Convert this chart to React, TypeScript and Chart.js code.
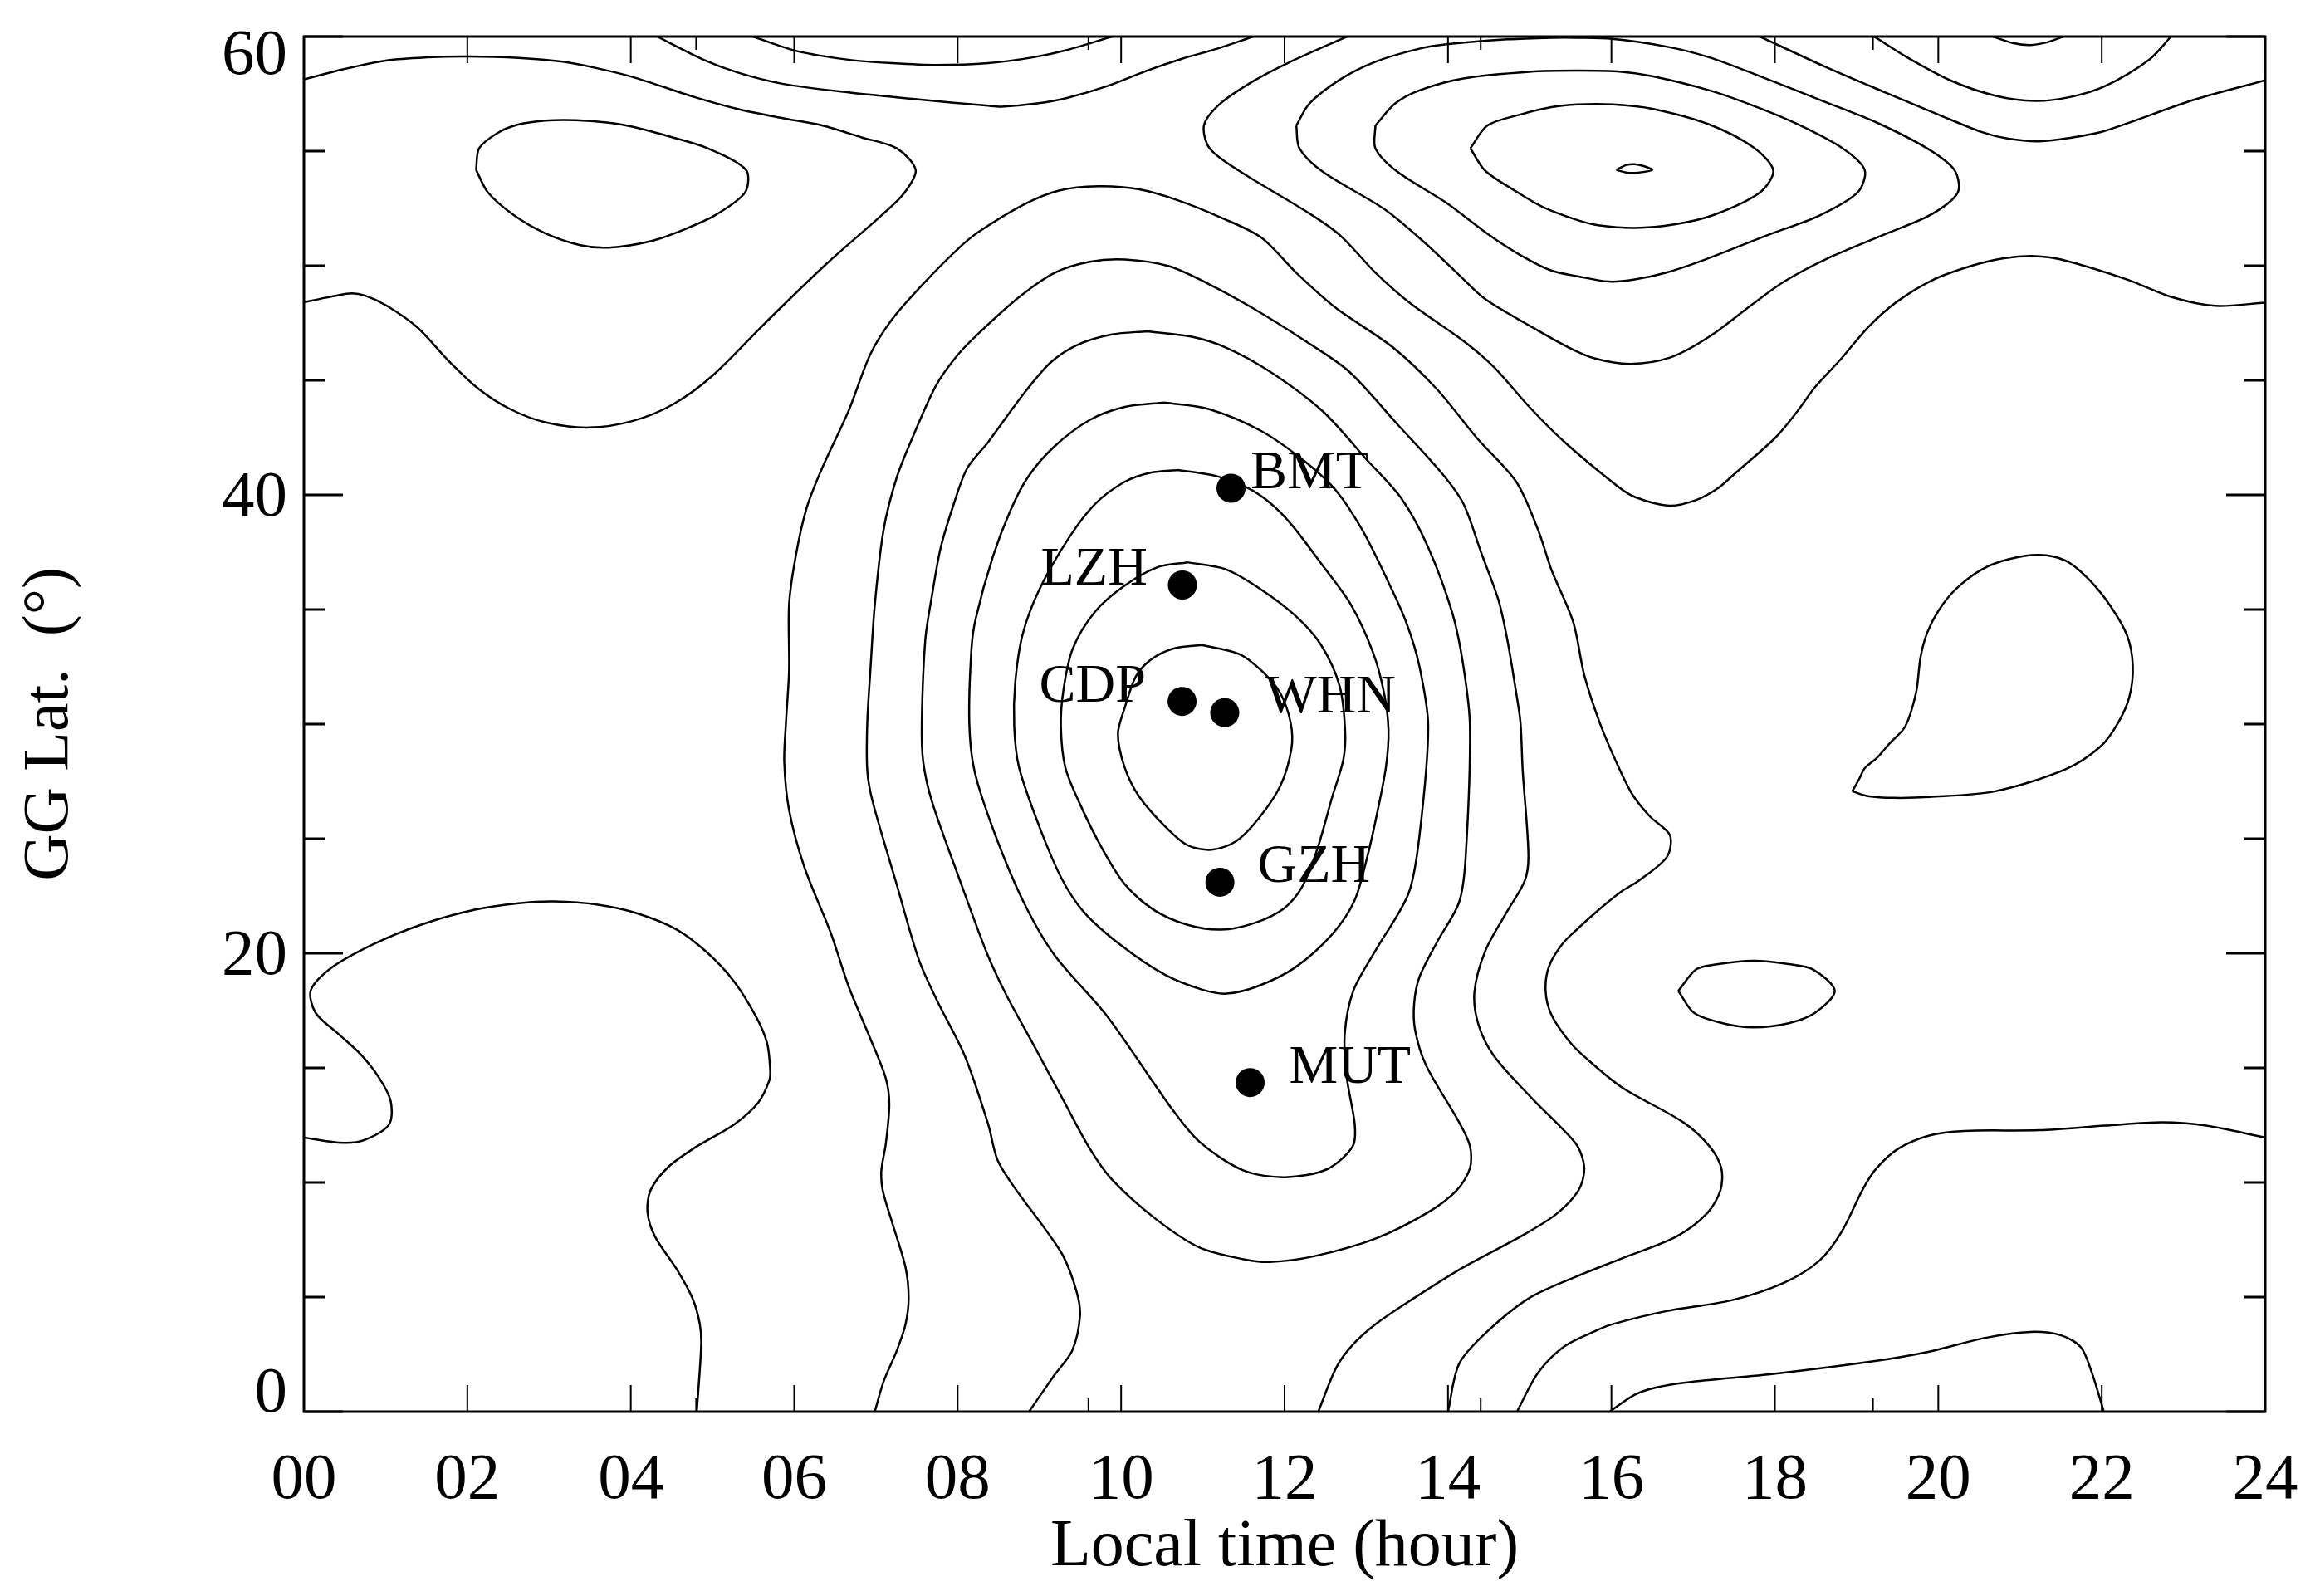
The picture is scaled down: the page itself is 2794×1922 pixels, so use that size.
import { useEffect, useRef } from 'react'
import { Chart, registerables } from 'chart.js'

Chart.register(...registerables)

type Pt = [number, number]

const FONT = '"Liberation Serif"'

// tick positions
const hourMajor = [0, 2, 4, 6, 8, 10, 12, 14, 16, 18, 20, 22, 24]
const hourMinor = [4.8, 9.6, 14.4, 19.2]
const hourLabels = ['00', '02', '04', '06', '08', '10', '12', '14', '16', '18', '20', '22', '24']
const latMajor = [0, 20, 40, 60]
const latMinor = [5, 10, 15, 25, 30, 35, 45, 50, 55]

// stations
const stationNames = ['BMT', 'LZH', 'CDP', 'WHN', 'GZH', 'MUT']
const stationHours = [11.345, 10.75, 10.746, 11.268, 11.209, 11.579]
const stationLats = [40.29, 36.07, 30.99, 30.5, 23.1, 14.36]
const stationLabelHours = [11.583, 9.018, 8.997, 11.76, 11.67, 12.056]

// contour lines, [local time, latitude]
const topLeftLine: Pt[] = [[0, 58.13], [0.477, 58.57], [1.015, 58.96], [1.499, 59.09], [2.005, 59.13], [2.629, 59.07], [3.167, 58.9], [3.597, 58.61], [4.027, 58.23], [4.78, 57.36], [5.318, 56.83], [5.856, 56.44], [6.34, 56.12], [6.825, 55.6], [7.255, 55.12], [7.486, 54.18], [7.352, 53.2], [7.093, 52.28], [6.394, 50.08], [5.641, 47.49], [4.996, 45.19], [4.511, 43.94], [4.027, 43.23], [3.489, 42.94], [2.951, 43.17], [2.521, 43.75], [2.144, 44.61], [1.768, 45.86], [1.391, 47.3], [1.015, 48.25], [0.746, 48.7], [0.558, 48.79], [0.262, 48.6], [0, 48.41]]
const topLeftBlob: Pt[] = [[2.107, 54.18], [2.144, 55.12], [2.36, 55.77], [2.602, 56.14], [2.951, 56.33], [3.328, 56.35], [3.705, 56.25], [4.027, 56.06], [4.511, 55.6], [4.942, 55.12], [5.41, 54.18], [5.399, 53.2], [5.05, 52.24], [4.673, 51.61], [4.242, 51.07], [3.731, 50.79], [3.382, 50.9], [2.951, 51.42], [2.575, 52.19], [2.252, 53.2], [2.107, 54.18]]
const topArcOuter: Pt[] = [[4.323, 60], [4.888, 58.99], [5.318, 58.42], [5.856, 57.94], [6.663, 57.56], [7.47, 57.27], [8.374, 56.98], [8.54, 56.94], [8.97, 57.08], [9.347, 57.33], [9.831, 57.84], [10.315, 58.51], [10.745, 59.03], [11.176, 59.47], [11.617, 60]]
const topArcInner: Pt[] = [[5.496, 60], [6.018, 59.38], [6.663, 58.99], [7.201, 58.84], [7.739, 58.76], [8.374, 58.84], [8.917, 59.09], [9.347, 59.42], [9.885, 60]]
const upperRightOuter: Pt[] = [[12.763, 60], [12.037, 58.84], [11.606, 58.03], [11.203, 57.04], [11.014, 56.12], [11.084, 55.12], [11.445, 54.14], [12.305, 52.28], [12.682, 51.32], [13.112, 49.7], [13.543, 48.35], [14.188, 46.72], [14.565, 45.57], [14.995, 43.84], [15.425, 42.31], [16.071, 40.39], [16.286, 39.91], [16.706, 39.53], [17.038, 39.78], [17.307, 40.3], [17.523, 40.97], [18.007, 42.5], [18.276, 43.65], [18.491, 44.7], [18.814, 45.95], [19.136, 47.3], [19.486, 48.41], [19.943, 49.4], [20.427, 50.02], [20.804, 50.33], [21.18, 50.42], [21.503, 50.27], [22.31, 49.4], [22.848, 48.64], [23.386, 48.25], [24, 48.39]]
const upperRingA: Pt[] = [[12.144, 56.12], [12.305, 57.08], [12.682, 58.13], [13.112, 58.9], [13.65, 59.47], [14.005, 59.67], [14.726, 59.88], [15.264, 59.95], [15.586, 59.95], [16.006, 59.9], [16.662, 59.57], [17.2, 59.09], [17.845, 58.23], [18.598, 57.17], [19.244, 56.25], [19.863, 55.12], [20.196, 54.18], [20.239, 53.2], [19.916, 52.24], [19.351, 51.38], [18.652, 50.33], [18.114, 49.31], [17.738, 48.35], [17.2, 46.91], [16.716, 45.99], [16.231, 45.72], [15.801, 45.95], [15.479, 46.43], [14.995, 47.39], [14.457, 48.54], [14.135, 49.6], [13.704, 51.04], [13.22, 52.47], [12.467, 54.1], [12.182, 55.12], [12.144, 56.12]]
const upperRingB: Pt[] = [[13.112, 56.12], [13.354, 57.08], [13.65, 57.65], [14.188, 58.17], [14.995, 58.46], [15.586, 58.51], [16.124, 58.46], [16.5, 58.27], [17.2, 57.65], [17.738, 56.98], [18.276, 56.18], [18.83, 55.12], [19.099, 54.18], [19.013, 53.2], [18.545, 52.19], [17.899, 51.32], [17.146, 50.27], [16.662, 49.69], [16.285, 49.4], [15.963, 49.31], [15.586, 49.54], [15.264, 49.79], [14.887, 50.46], [14.511, 51.32], [13.973, 52.76], [13.381, 54.1], [13.112, 55.12], [13.112, 56.12]]
const upperRingC: Pt[] = [[14.274, 55.12], [14.484, 56.12], [14.887, 56.6], [15.264, 56.92], [15.586, 57.04], [16.016, 57.04], [16.5, 56.85], [17.2, 56.16], [17.738, 55.16], [17.98, 54.16], [17.818, 53.2], [17.254, 52.22], [16.769, 51.8], [16.285, 51.65], [15.855, 51.76], [15.586, 51.99], [15.156, 52.57], [14.834, 53.24], [14.457, 54.14], [14.274, 55.12]]
const upperRingCore: Pt[] = [[16.059, 54.18], [16.178, 54.39], [16.285, 54.43], [16.393, 54.35], [16.5, 54.18], [16.285, 54.05], [16.178, 54.07], [16.059, 54.18]]
const topRightArc: Pt[] = [[19.217, 60], [19.62, 59.09], [20.158, 58.07], [20.696, 57.42], [21.18, 57.19], [21.611, 57.36], [22.041, 57.84], [22.579, 58.99], [22.848, 60]]
const topRightLine: Pt[] = [[17.818, 60], [18.598, 58.71], [19.351, 57.56], [19.997, 56.6], [20.535, 55.83], [20.858, 55.54], [21.234, 55.43], [21.611, 55.58], [22.041, 55.89], [23.117, 57.23], [24, 58.09]]
const topRightCap: Pt[] = [[20.669, 60], [20.911, 59.72], [21.127, 59.63], [21.342, 59.76], [21.53, 60]]
const rightLobe: Pt[] = [[18.948, 27.07], [19.029, 27.59], [19.099, 28.07], [19.244, 28.51], [19.405, 29.16], [19.594, 29.89], [19.728, 31.38], [19.782, 32.91], [19.862, 33.97], [19.997, 34.92], [20.212, 35.88], [20.535, 36.75], [20.858, 37.19], [21.234, 37.38], [21.557, 37.13], [21.826, 36.37], [22.095, 35.21], [22.31, 33.87], [22.38, 32.53], [22.337, 31.18], [22.202, 30.07], [21.987, 29.03], [21.557, 28.03], [20.696, 27.07], [19.889, 26.82], [19.459, 26.78], [19.136, 26.86], [18.948, 27.07]]
const smallIsland: Pt[] = [[16.818, 18.36], [17.038, 19.3], [17.254, 19.5], [17.738, 19.67], [18.168, 19.53], [18.464, 19.3], [18.733, 18.36], [18.491, 17.4], [18.168, 16.95], [17.738, 16.77], [17.361, 16.95], [17.011, 17.4], [16.818, 18.36]]
const coreInner: Pt[] = [[10.986, 33.45], [10.633, 33.29], [10.36, 32.8], [10.179, 32.07], [10.043, 30.7], [9.961, 29.57], [10.043, 28.11], [10.224, 26.82], [10.542, 25.52], [10.814, 24.71], [11.109, 24.52], [11.404, 24.88], [11.676, 25.85], [11.948, 27.3], [12.084, 28.92], [12.075, 30.05], [11.948, 31.35], [11.721, 32.32], [11.449, 33.05], [10.986, 33.45]]
const coreSecond: Pt[] = [[10.814, 37.06], [10.451, 36.85], [10.043, 36.04], [9.68, 34.9], [9.408, 33.29], [9.295, 31.51], [9.263, 29.89], [9.317, 28.11], [9.499, 26.49], [9.771, 24.55], [10.043, 23.02], [10.406, 21.88], [10.814, 21.24], [11.222, 21.03], [11.63, 21.32], [11.993, 21.96], [12.22, 22.93], [12.401, 24.55], [12.583, 26.82], [12.719, 28.44], [12.741, 29.73], [12.673, 31.67], [12.447, 33.45], [12.129, 34.74], [11.676, 35.96], [11.268, 36.77], [10.814, 37.06]]
const coreThird: Pt[] = [[10.7, 41.09], [10.36, 40.97], [10.043, 40.57], [9.68, 39.6], [9.363, 38.14], [9.0, 35.88], [8.796, 33.93], [8.705, 31.83], [8.692, 29.89], [8.751, 28.11], [9.0, 25.52], [9.272, 23.26], [9.544, 21.8], [9.998, 20.35], [10.542, 19.05], [10.995, 18.41], [11.29, 18.24], [11.676, 18.57], [12.129, 19.38], [12.583, 20.83], [12.855, 22.29], [13.014, 24.23], [13.127, 26.01], [13.24, 28.11], [13.272, 29.73], [13.218, 31.35], [13.082, 33.13], [12.809, 35.23], [12.447, 37.01], [12.084, 38.71], [11.812, 39.68], [11.54, 40.32], [11.177, 40.81], [10.7, 41.09]]
const coreFourth: Pt[] = [[10.53, 44.03], [10.046, 43.84], [9.616, 43.27], [9.185, 42.12], [8.863, 40.8], [8.648, 39.34], [8.432, 37.32], [8.223, 34.64], [8.169, 33.3], [8.142, 30.07], [8.206, 27.95], [8.456, 25.2], [8.809, 22.22], [9.185, 19.92], [9.831, 17.25], [10.584, 13.4], [10.961, 11.77], [11.499, 10.52], [12.009, 10.23], [12.521, 10.58], [12.833, 11.57], [12.859, 12.53], [12.763, 14.55], [12.736, 16.47], [12.843, 18.38], [13.112, 20.11], [13.516, 22.6], [13.65, 25.1], [13.758, 29.89], [13.65, 32.53], [13.489, 34.44], [13.274, 36.17], [12.951, 38.47], [12.628, 40.2], [12.252, 41.45], [11.714, 42.79], [11.068, 43.75], [10.53, 44.03]]
const coreFifth: Pt[] = [[10.315, 47.14], [9.885, 47.0], [9.454, 46.53], [9.132, 45.76], [8.809, 44.42], [8.374, 42.31], [8.116, 41.16], [7.954, 39.62], [7.793, 37.71], [7.685, 35.6], [7.604, 33.68], [7.561, 30.07], [7.578, 28.36], [7.685, 26.63], [8.008, 23.37], [8.357, 20.01], [8.594, 18.19], [8.917, 16.08], [9.293, 13.59], [9.616, 11.48], [9.885, 10.14], [10.423, 8.41], [10.961, 7.16], [11.499, 6.65], [11.821, 6.53], [12.359, 6.78], [13.112, 7.55], [13.758, 8.7], [14.107, 9.66], [14.269, 10.62], [14.269, 11.59], [14.135, 12.63], [13.731, 15.12], [13.597, 16.66], [13.586, 17.81], [13.65, 18.96], [13.866, 20.49], [14.135, 22.22], [14.215, 24.14], [14.269, 29.89], [14.188, 32.53], [14.054, 34.83], [13.758, 37.71], [13.435, 39.82], [13.005, 41.54], [12.467, 43.65], [11.821, 45.38], [11.283, 46.43], [10.853, 46.91], [10.315, 47.14]]
const archInner: Pt[] = [[8.873, 0], [9.185, 1.6], [9.401, 2.66], [9.497, 4.19], [9.454, 5.25], [9.293, 6.78], [9.078, 7.93], [8.701, 9.75], [8.486, 11.0], [8.374, 12.53], [8.089, 15.51], [7.739, 18.0], [7.524, 19.73], [7.255, 22.99], [6.959, 26.63], [6.894, 27.97], [6.894, 30.07], [6.932, 32.34], [6.986, 35.21], [7.093, 38.47], [7.255, 40.77], [7.47, 42.69], [7.739, 44.8], [8.008, 46.14], [8.271, 47.1], [8.755, 48.64], [9.185, 49.69], [9.616, 50.17], [10.046, 50.27], [10.584, 49.98], [11.068, 49.21], [11.606, 48.16], [12.252, 46.72], [12.79, 45.38], [13.381, 43.08], [13.919, 40.97], [14.188, 39.62], [14.403, 37.51], [14.618, 35.4], [14.726, 33.68], [14.834, 31.38], [14.887, 30.07], [14.914, 27.97], [14.984, 24.33], [14.941, 23.18], [14.726, 21.84], [14.457, 20.11], [14.323, 18.29], [14.376, 16.85], [14.565, 15.51], [15.049, 13.59], [15.372, 12.44], [15.587, 11.57], [15.668, 10.62], [15.598, 9.66], [15.318, 8.6], [14.887, 7.64], [14.188, 6.3], [13.543, 4.86], [13.112, 3.81], [12.817, 2.85], [12.628, 1.89], [12.413, 0]]
const archOuter: Pt[] = [[6.986, 0], [7.093, 1.31], [7.255, 2.66], [7.362, 3.81], [7.4, 4.96], [7.362, 6.3], [7.201, 8.22], [7.083, 9.66], [7.066, 10.52], [7.12, 11.67], [7.163, 13.4], [7.12, 14.55], [6.932, 16.27], [6.663, 18.58], [6.448, 20.88], [6.125, 23.75], [5.937, 26.25], [5.878, 28.36], [5.899, 30.07], [5.937, 32.34], [5.937, 35.21], [6.018, 37.32], [6.152, 39.43], [6.34, 41.16], [6.663, 43.65], [6.932, 46.14], [7.201, 47.68], [7.578, 49.21], [8.008, 50.75], [8.271, 51.51], [8.809, 52.67], [9.239, 53.28], [9.723, 53.47], [10.208, 53.34], [10.692, 52.86], [11.23, 52.09], [11.714, 51.23], [12.144, 49.69], [12.628, 48.16], [13.328, 46.43], [13.865, 44.61], [14.349, 42.5], [14.834, 40.58], [15.103, 38.47], [15.264, 36.75], [15.533, 34.44], [15.667, 32.14], [15.856, 30.07], [16.07, 28.26], [16.258, 26.92], [16.474, 25.96], [16.716, 25.15], [16.678, 24.2], [16.339, 23.18], [16.124, 22.7], [15.855, 21.93], [15.586, 21.07], [15.398, 20.4], [15.237, 19.44], [15.194, 18.38], [15.264, 17.33], [15.479, 16.18], [15.694, 15.41], [16.124, 14.16], [16.877, 12.63], [17.2, 11.58], [17.345, 10.62], [17.334, 9.66], [17.173, 8.66], [16.796, 7.64], [16.124, 6.68], [15.586, 5.92], [14.995, 4.96], [14.457, 3.42], [14.135, 2.08], [14.0, 0]]
const lowerLeftLine: Pt[] = [[0, 11.96], [0.477, 11.73], [0.746, 11.86], [1.042, 12.53], [1.063, 13.53], [0.923, 14.55], [0.692, 15.6], [0.396, 16.56], [0.143, 17.4], [0.084, 18.38], [0.326, 19.34], [0.853, 20.4], [1.445, 21.26], [2.091, 21.9], [2.629, 22.18], [3.059, 22.26], [3.597, 22.12], [4.081, 21.74], [4.565, 21.03], [4.942, 20.01], [5.264, 18.77], [5.533, 17.23], [5.668, 16.08], [5.706, 14.93], [5.695, 14.45], [5.56, 13.49], [5.264, 12.53], [4.807, 11.57], [4.457, 10.67], [4.242, 9.66], [4.205, 8.7], [4.296, 7.64], [4.565, 6.2], [4.753, 4.96], [4.845, 3.81], [4.861, 2.85], [4.807, 0]]
const lowerRightLine: Pt[] = [[14.844, 0], [15.103, 1.7], [15.425, 2.85], [15.802, 3.52], [16.006, 3.81], [16.662, 4.38], [17.469, 4.86], [18.114, 5.63], [18.545, 6.59], [18.814, 7.83], [19.083, 9.75], [19.244, 10.62], [19.513, 11.48], [19.889, 12.05], [20.32, 12.25], [21.234, 12.28], [22.041, 12.48], [22.74, 12.63], [23.278, 12.48], [24, 11.96]]
const bottomRightArc: Pt[] = [[15.979, 0], [16.285, 0.74], [16.554, 1.06], [16.931, 1.28], [18.007, 1.66], [19.244, 2.22], [19.889, 2.62], [20.589, 3.23], [21.127, 3.48], [21.503, 3.33], [21.745, 2.81], [21.879, 1.7], [22.025, 0]]

const contours = [
  topLeftLine, topLeftBlob, topArcOuter, topArcInner, upperRightOuter, upperRingA, upperRingB, upperRingC,
  upperRingCore, topRightArc, topRightLine, topRightCap, rightLobe, smallIsland, coreInner, coreSecond,
  coreThird, coreFourth, coreFifth, archInner, archOuter, lowerLeftLine, lowerRightLine, bottomRightArc,
]

// frame, inward ticks, lat tick labels and station names
const framePlugin = {
  id: 'frame',
  afterDatasetsDraw(chart: any) {
    const { ctx, chartArea: a, scales } = chart
    const x = scales.x
    const y = scales.y
    ctx.save()
    ctx.strokeStyle = '#000'
    ctx.fillStyle = '#000'

    const xTicks = (vals: number[], len: number) => {
      ctx.lineWidth = 2
      vals.forEach((v) => {
        const p = x.getPixelForValue(v)
        ctx.beginPath()
        ctx.moveTo(p, a.bottom)
        ctx.lineTo(p, a.bottom - len)
        ctx.moveTo(p, a.top)
        ctx.lineTo(p, a.top + len)
        ctx.stroke()
      })
    }
    const yTicks = (vals: number[], len: number) => {
      ctx.lineWidth = 3
      vals.forEach((v) => {
        const p = y.getPixelForValue(v)
        ctx.beginPath()
        ctx.moveTo(a.left, p)
        ctx.lineTo(a.left + len, p)
        ctx.moveTo(a.right, p)
        ctx.lineTo(a.right - len, p)
        ctx.stroke()
      })
    }
    xTicks(hourMajor, 32)
    xTicks(hourMinor, 16)
    yTicks(latMajor, 47)
    yTicks(latMinor, 25)

    ctx.lineWidth = 3
    ctx.strokeRect(a.left, a.top, a.right - a.left, a.bottom - a.top)

    // end labels sit inside the axis range, as in the original
    ctx.font = `79px ${FONT}`
    ctx.textAlign = 'right'
    ctx.textBaseline = 'middle'
    latMajor.forEach((v) => {
      const shift = v === 60 ? 24 : v === 0 ? -21 : 4
      ctx.fillText(String(v), a.left - 20, y.getPixelForValue(v) + shift)
    })

    ctx.font = `66px ${FONT}`
    ctx.textAlign = 'left'
    ctx.textBaseline = 'alphabetic'
    stationNames.forEach((name, i) => {
      ctx.fillText(name, x.getPixelForValue(stationLabelHours[i]), y.getPixelForValue(stationLats[i]))
    })
    ctx.restore()
  },
}

export default function App() {
  const ref = useRef<HTMLCanvasElement | null>(null)

  useEffect(() => {
    if (!ref.current) return
    const chart = new Chart(ref.current, {
      type: 'scatter',
      data: {
        datasets: [
          ...contours.map((line) => ({
            data: line.map(([x, y]) => ({ x, y })),
            showLine: true,
            borderColor: '#000',
            borderWidth: 2.5,
            pointRadius: 0,
            tension: 0.3,
            fill: false,
          })),
          {
            data: stationHours.map((x, i) => ({ x, y: stationLats[i] })),
            showLine: false,
            pointRadius: 17.5,
            pointBackgroundColor: '#000',
            pointBorderWidth: 0,
          },
        ],
      },
      options: {
        animation: false,
        responsive: false,
        devicePixelRatio: 1,
        layout: { padding: { top: 44, right: 66, left: 0, bottom: 0 } },
        plugins: { legend: { display: false }, tooltip: { enabled: false } },
        scales: {
          x: {
            type: 'linear',
            min: 0,
            max: 24,
            grid: { display: false, drawTicks: false },
            border: { display: false },
            ticks: {
              stepSize: 2,
              autoSkip: false,
              maxRotation: 0,
              padding: 36,
              color: '#000',
              font: { family: FONT, size: 79 },
              callback: (_v: any, i: number) => hourLabels[i],
            },
            title: {
              display: true,
              text: 'Local time (hour)',
              color: '#000',
              font: { family: FONT, size: 80 },
              padding: { top: 0, bottom: 10 },
            },
            afterFit: (s: any) => {
              s.height = 222
              s.paddingRight = 0
              s.paddingLeft = 0
            },
          },
          y: {
            type: 'linear',
            min: 0,
            max: 60,
            grid: { display: false, drawTicks: false },
            border: { display: false },
            ticks: { display: false, stepSize: 20 },
            title: {
              display: true,
              text: 'GG Lat.  (°)',
              color: '#000',
              font: { family: FONT, size: 78 },
              padding: { top: 14, bottom: 0 },
            },
            afterFit: (s: any) => {
              s.width = 366
            },
          },
        },
      },
      plugins: [framePlugin],
    } as any)
    return () => chart.destroy()
  }, [])

  return (
    <div style={{ position: 'absolute', left: 0, top: 0 }}>
      <canvas ref={ref} width={2794} height={1922} style={{ display: 'block' }} />
    </div>
  )
}
